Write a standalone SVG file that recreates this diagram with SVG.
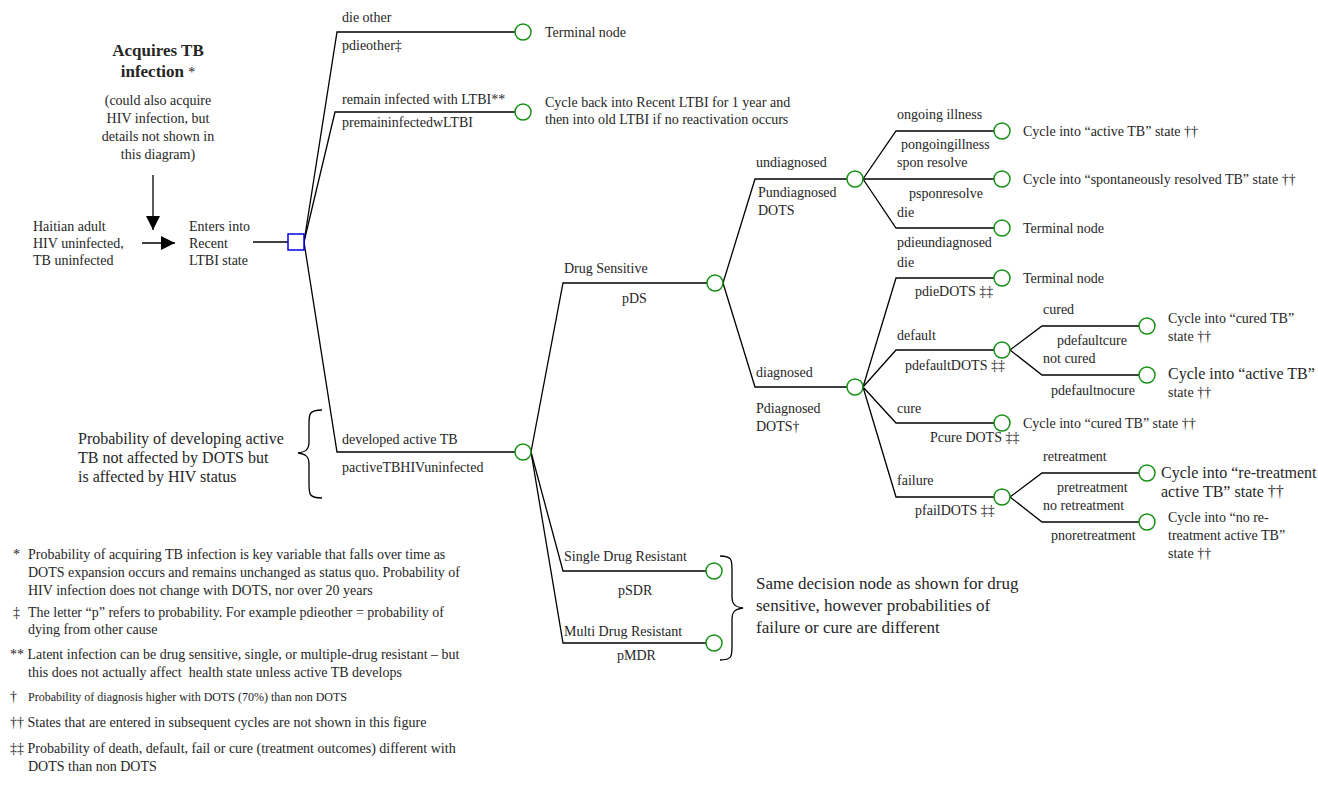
<svg xmlns="http://www.w3.org/2000/svg" width="1318" height="787" viewBox="0 0 1318 787">
<defs>
<style>
text{font-family:"Liberation Serif","DejaVu Serif",serif;font-size:14px;fill:#262626}
.b{font-weight:bold;font-size:17px}
.m{font-size:16px}
.l{font-size:17px}
.s{font-size:12px}
.c{text-anchor:middle}
.ln{stroke:#000;stroke-width:1.3;fill:none}
.ch{fill:#fff;stroke:#159015;stroke-width:1.5}
.dc{fill:#fff;stroke:#0000ee;stroke-width:1.5}
</style>
<marker id="ah" viewBox="0 0 10 10" refX="10" refY="5" markerWidth="14" markerHeight="14" markerUnits="userSpaceOnUse" orient="auto"><path d="M0,0L10,5L0,10z" fill="#000"/></marker>
</defs>
<rect width="1318" height="787" fill="#fff"/>

<g id="intro">
<text class="b c" x="158" y="56">Acquires TB</text>
<text class="b c" x="158" y="77">infection <tspan style="font-weight:normal;font-size:14px">*</tspan></text>
<text class="c" x="158" y="105">(could also acquire</text>
<text class="c" x="158" y="123">HIV infection, but</text>
<text class="c" x="158" y="141">details not shown in</text>
<text class="c" x="158" y="159">this diagram)</text>
<text x="33" y="231">Haitian adult</text>
<text x="33" y="248">HIV uninfected,</text>
<text x="33" y="265">TB uninfected</text>
<text x="189" y="231">Enters into</text>
<text x="189" y="248">Recent</text>
<text x="189" y="265">LTBI state</text>
</g>

<g id="connectors">
<line class="ln" x1="153" y1="175" x2="153" y2="230" marker-end="url(#ah)"/>
<line class="ln" x1="142" y1="243" x2="175" y2="243" marker-end="url(#ah)"/>
<line class="ln" x1="253" y1="242" x2="288" y2="242"/>
<polyline class="ln" points="304,242 337,32 515,32"/>
<polyline class="ln" points="304,242 335,112 515,112"/>
<polyline class="ln" points="304,242 337,452 515,452"/>
<polyline class="ln" points="531,452 563,283 707,283"/>
<polyline class="ln" points="531,452 563,571 706,571"/>
<polyline class="ln" points="531,452 563,643 706,643"/>
<polyline class="ln" points="723,283 755,179 847,179"/>
<polyline class="ln" points="723,283 755,387 847,387"/>
<polyline class="ln" points="863,179 896,131 994,131"/>
<line class="ln" x1="863" y1="179" x2="994" y2="179"/>
<polyline class="ln" points="863,179 896,228 994,228"/>
<polyline class="ln" points="863,387 896,278 994,278"/>
<polyline class="ln" points="863,387 896,350 994,350"/>
<polyline class="ln" points="863,387 896,423 994,423"/>
<polyline class="ln" points="863,387 896,497 994,497"/>
<polyline class="ln" points="1010,350 1042,326 1139,326"/>
<polyline class="ln" points="1010,350 1042,375 1139,375"/>
<polyline class="ln" points="1010,497 1042,473 1139,473"/>
<polyline class="ln" points="1010,497 1042,522 1139,522"/>
</g>

<g id="root">
<rect class="dc" x="288" y="234" width="16" height="16"/>
</g>

<g id="dieother">
<text x="342" y="22">die other</text>
<text x="342" y="50">pdieother‡</text>
<circle class="ch" cx="523" cy="32" r="8"/>
<text x="545" y="37">Terminal node</text>
</g>

<g id="remain">
<text x="342" y="104">remain infected with LTBI**</text>
<text x="342" y="127">premaininfectedwLTBI</text>
<circle class="ch" cx="523" cy="112" r="8"/>
<text x="545" y="107">Cycle back into Recent LTBI for 1 year and</text>
<text x="545" y="124">then into old LTBI if no reactivation occurs</text>
</g>

<g id="activeTB">
<text x="342" y="444">developed active TB</text>
<text x="342" y="472">pactiveTBHIVuninfected</text>
<circle class="ch" cx="523" cy="452" r="8"/>
<path class="ln" d="M322,410 C309,410 309,414 309,424 L309,442 C309,450 305,452 298,453 C305,454 309,456 309,464 L309,484 C309,494 309,498 322,498"/>
<text class="m" x="78" y="444">Probability of developing active</text>
<text class="m" x="78" y="463">TB not affected by DOTS but</text>
<text class="m" x="78" y="482">is affected by HIV status</text>
</g>

<g id="drugsensitive">
<text x="564" y="273">Drug Sensitive</text>
<text x="622" y="303">pDS</text>
<circle class="ch" cx="715" cy="283" r="8"/>
</g>

<g id="sdr">
<text x="564" y="561">Single Drug Resistant</text>
<text x="618" y="595">pSDR</text>
<circle class="ch" cx="714" cy="571" r="8"/>
</g>

<g id="mdr">
<text x="564" y="636">Multi Drug Resistant</text>
<text x="617" y="660">pMDR</text>
<circle class="ch" cx="714" cy="643" r="8"/>
</g>

<g id="samenote">
<path class="ln" d="M720,556 C732,556 732,560 732,570 L732,597 C732,605 736,607 743,608 C736,609 732,611 732,619 L732,646 C732,656 732,660 720,660"/>
<text class="l" x="756" y="589">Same decision node as shown for drug</text>
<text class="l" x="756" y="611">sensitive, however probabilities of</text>
<text class="l" x="756" y="633">failure or cure are different</text>
</g>

<g id="undiagnosed">
<text x="756" y="167">undiagnosed</text>
<text x="758" y="197">Pundiagnosed</text>
<text x="758" y="215">DOTS</text>
<circle class="ch" cx="855" cy="179" r="8"/>
</g>

<g id="ongoing">
<text x="897" y="119">ongoing illness</text>
<text x="901" y="149">pongoingillness</text>
<circle class="ch" cx="1002" cy="131" r="8"/>
<text x="1023" y="136">Cycle into “active TB” state ††</text>
</g>

<g id="sponresolve">
<text x="897" y="167">spon resolve</text>
<text x="909" y="198">psponresolve</text>
<circle class="ch" cx="1002" cy="179" r="8"/>
<text x="1023" y="184">Cycle into “spontaneously resolved TB” state ††</text>
</g>

<g id="dieundiag">
<text x="897" y="217">die</text>
<text x="897" y="247">pdieundiagnosed</text>
<circle class="ch" cx="1002" cy="228" r="8"/>
<text x="1023" y="233">Terminal node</text>
</g>

<g id="diagnosed">
<text x="756" y="377">diagnosed</text>
<text x="756" y="413">Pdiagnosed</text>
<text x="756" y="431">DOTS†</text>
<circle class="ch" cx="855" cy="387" r="8"/>
</g>

<g id="diedots">
<text x="897" y="267">die</text>
<text x="915" y="296">pdieDOTS ‡‡</text>
<circle class="ch" cx="1002" cy="278" r="8"/>
<text x="1023" y="283">Terminal node</text>
</g>

<g id="default">
<text x="897" y="340">default</text>
<text x="905" y="370">pdefaultDOTS ‡‡</text>
<circle class="ch" cx="1002" cy="350" r="8"/>
</g>

<g id="cured">
<text x="1043" y="314">cured</text>
<text x="1057" y="345">pdefaultcure</text>
<circle class="ch" cx="1147" cy="326" r="8"/>
<text x="1168" y="323">Cycle into “cured TB”</text>
<text x="1168" y="341">state ††</text>
</g>

<g id="notcured">
<text x="1043" y="363">not cured</text>
<text x="1051" y="395">pdefaultnocure</text>
<circle class="ch" cx="1147" cy="375" r="8"/>
<text class="m" x="1168" y="379">Cycle into “active TB”</text>
<text x="1168" y="397">state ††</text>
</g>

<g id="cure">
<text x="897" y="413">cure</text>
<text x="930" y="442">Pcure DOTS ‡‡</text>
<circle class="ch" cx="1002" cy="423" r="8"/>
<text x="1023" y="428">Cycle into “cured TB” state ††</text>
</g>

<g id="failure">
<text x="897" y="485">failure</text>
<text x="915" y="515">pfailDOTS ‡‡</text>
<circle class="ch" cx="1002" cy="497" r="8"/>
</g>

<g id="retreatment">
<text x="1043" y="461">retreatment</text>
<text x="1057" y="492">pretreatment</text>
<circle class="ch" cx="1147" cy="473" r="8"/>
<text class="m" x="1161" y="478">Cycle into “re-treatment</text>
<text class="m" x="1161" y="497">active TB” state ††</text>
</g>

<g id="noretreatment">
<text x="1043" y="510">no retreatment</text>
<text x="1051" y="540">pnoretreatment</text>
<circle class="ch" cx="1147" cy="522" r="8"/>
<text x="1168" y="522">Cycle into “no re-</text>
<text x="1168" y="540">treatment active TB”</text>
<text x="1168" y="558">state ††</text>
</g>

<g id="footnotes">
<text x="13" y="559">*</text>
<text x="28" y="559">Probability of acquiring TB infection is key variable that falls over time as</text>
<text x="28" y="577">DOTS expansion occurs and remains unchanged as status quo. Probability of</text>
<text x="28" y="595">HIV infection does not change with DOTS, nor over 20 years</text>
<text x="13" y="617">‡</text>
<text x="28" y="617">The letter “p” refers to probability. For example pdieother = probability of</text>
<text x="28" y="634">dying from other cause</text>
<text x="10" y="659">** Latent infection can be drug sensitive, single, or multiple-drug resistant – but</text>
<text x="28" y="677" xml:space="preserve">this does not actually affect  health state unless active TB develops</text>
<text x="10" y="701">†</text>
<text class="s" x="28" y="701">Probability of diagnosis higher with DOTS (70%) than non DOTS</text>
<text x="10" y="727">†† States that are entered in subsequent cycles are not shown in this figure</text>
<text x="10" y="753">‡‡ Probability of death, default, fail or cure (treatment outcomes) different with</text>
<text x="28" y="771">DOTS than non DOTS</text>
</g>
</svg>
